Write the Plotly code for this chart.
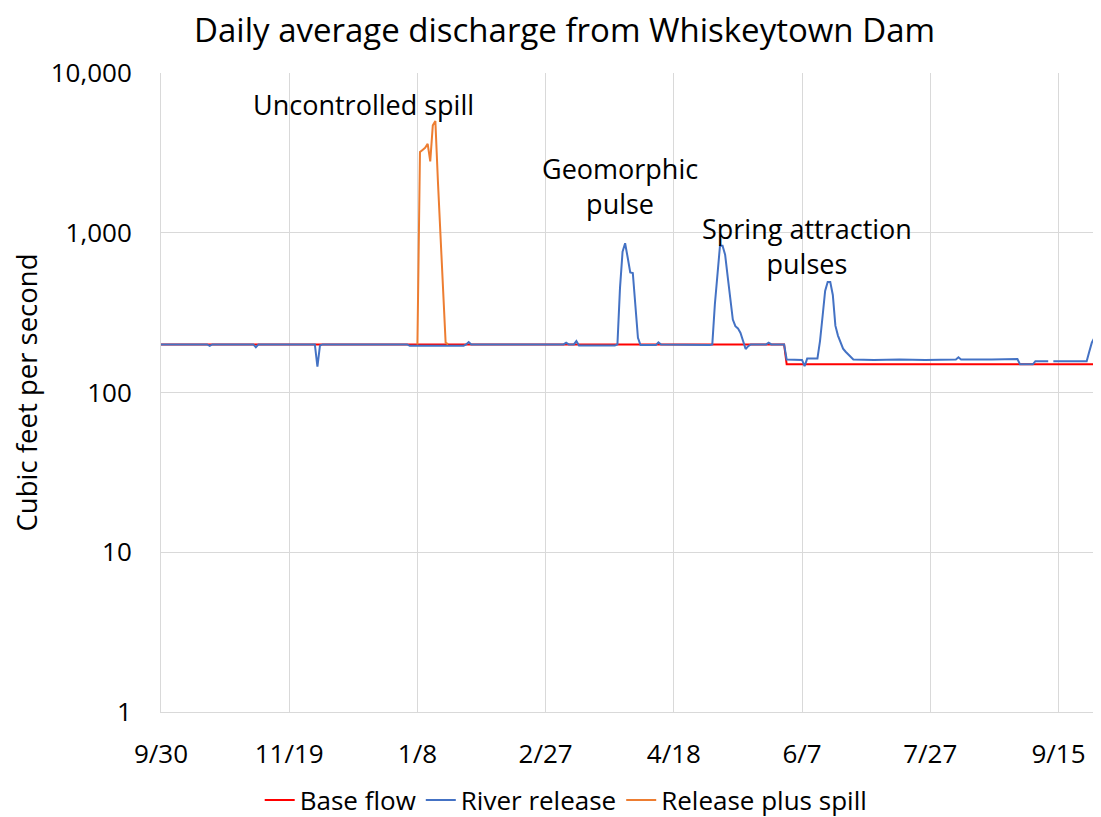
import plotly.graph_objects as go

# ---- Data ----
base_dates = ["2016-09-30", "2017-05-31", "2017-06-01", "2017-09-30"]
base_cfs = [200, 200, 150, 150]

river_dates = [
    "2016-09-30", "2016-10-18", "2016-10-19", "2016-10-20", "2016-11-05", "2016-11-06",
    "2016-11-07", "2016-11-29", "2016-11-30", "2016-12-01", "2016-12-02", "2017-01-04",
    "2017-01-05", "2017-01-26", "2017-01-27", "2017-01-28", "2017-01-29", "2017-03-06",
    "2017-03-07", "2017-03-08", "2017-03-10", "2017-03-11", "2017-03-12", "2017-03-26",
    "2017-03-27", "2017-03-28", "2017-03-29", "2017-03-30", "2017-03-31", "2017-04-01",
    "2017-04-02", "2017-04-03", "2017-04-04", "2017-04-05", "2017-04-11", "2017-04-12",
    "2017-04-13", "2017-05-02", "2017-05-03", "2017-05-04", "2017-05-05", "2017-05-06",
    "2017-05-07", "2017-05-08", "2017-05-09", "2017-05-10", "2017-05-11", "2017-05-12",
    "2017-05-13", "2017-05-14", "2017-05-15", "2017-05-16", "2017-05-17", "2017-05-18",
    "2017-05-24", "2017-05-25", "2017-05-26", "2017-05-31", "2017-06-01", "2017-06-07",
    "2017-06-08", "2017-06-09", "2017-06-13", "2017-06-14", "2017-06-15", "2017-06-16",
    "2017-06-17", "2017-06-18", "2017-06-19", "2017-06-20", "2017-06-21", "2017-06-22",
    "2017-06-23", "2017-06-24", "2017-06-25", "2017-06-26", "2017-06-27", "2017-07-05",
    "2017-07-15", "2017-07-25", "2017-08-06", "2017-08-07", "2017-08-08", "2017-08-20",
    "2017-08-30", "2017-08-31", "2017-09-05", "2017-09-06", "2017-09-11", "2017-09-12",
    "2017-09-13", "2017-09-26", "2017-09-27", "2017-09-28", "2017-09-29", "2017-09-30",
]
river_cfs = [
    200, 200, 196, 200, 200, 192,
    200, 200, 145, 197, 200, 200,
    196, 196, 200, 207, 200, 200,
    205, 200, 200, 210, 197, 197,
    200, 450, 760, 860, 700, 565,
    560, 330, 220, 198, 198, 206,
    200, 198, 200, 357, 572, 830,
    830, 729, 531, 389, 286, 260,
    252, 236, 208, 187, 195, 200,
    200, 205, 200, 200, 161, 160,
    146, 163, 163, 210, 299, 432,
    492, 492, 408, 262, 227, 205,
    188, 180, 174, 167, 161, 160,
    161, 160, 161, 166, 161, 161,
    162, 150, 150, 157, 157, None,
    157, 157, 180, 205, 220, 200,
]

spill_dates = [
    "2017-01-08", "2017-01-09", "2017-01-10", "2017-01-11", "2017-01-12", "2017-01-13",
    "2017-01-14", "2017-01-15", "2017-01-16", "2017-01-17", "2017-01-18", "2017-01-19",
    "2017-01-20",
]
spill_cfs = [200, 3200, 3300, 3400, 3600, 2800, 4700, 5000, 2090, 944, 416, 205, 200]

x_tick_dates = ["2016-09-30", "2016-11-19", "2017-01-08", "2017-02-27",
                "2017-04-18", "2017-06-07", "2017-07-27", "2017-09-15"]
x_tick_labels = ["9/30", "11/19", "1/8", "2/27", "4/18", "6/7", "7/27", "9/15"]
y_tick_vals = [1, 10, 100, 1000, 10000]
y_tick_labels = ["1", "10", "100", "1,000", "10,000"]

labels = [
    ("2016-12-18", 3.80, "Uncontrolled spill"),
    ("2017-03-28", 3.294, "Geomorphic<br>pulse"),
    ("2017-06-09", 2.919, "Spring attraction<br>pulses"),
]

FONT = "Open Sans"

fig = go.Figure()
fig.add_trace(go.Scatter(x=base_dates, y=base_cfs, mode="lines", name="Base flow",
                         line=dict(color="#FF0000", width=2)))
fig.add_trace(go.Scatter(x=river_dates, y=river_cfs, mode="lines", name="River release",
                         line=dict(color="#4472C4", width=2), connectgaps=False))
fig.add_trace(go.Scatter(x=spill_dates, y=spill_cfs, mode="lines", name="Release plus spill",
                         line=dict(color="#ED7D31", width=2)))

for xd, ylog, txt in labels:
    fig.add_annotation(x=xd, y=ylog, xref="x", yref="y", text=txt, showarrow=False,
                       font=dict(family=FONT, size=27, color="#000000"))

# the page body adds an 8px margin, so the figure is offset by 8px in the window
fig.update_layout(
    width=1101, height=817,
    margin=dict(l=153, r=11, t=65, b=113, autoexpand=False),
    paper_bgcolor="white", plot_bgcolor="white",
    title=dict(text="Daily average discharge from Whiskeytown Dam",
               x=0.5055, xanchor="center", xref="container",
               y=0.973, yanchor="middle", yref="container",
               font=dict(family=FONT, size=33, color="#000000")),
    font=dict(family=FONT, color="#000000"),
    showlegend=True,
    legend=dict(orientation="h", xref="container", x=0.507, xanchor="center",
                yref="container", y=0.0306, yanchor="middle",
                font=dict(family=FONT, size=26, color="#000000"),
                itemwidth=30, tracegroupgap=0),
)
fig.update_xaxes(type="date", range=["2016-09-30", "2017-09-30 10:00"],
                 tickvals=x_tick_dates, ticktext=x_tick_labels,
                 tickfont=dict(family=FONT, size=26),
                 showgrid=True, gridcolor="#D9D9D9", gridwidth=1,
                 showline=True, linecolor="#D9D9D9", linewidth=1,
                 ticks="", ticklabelstandoff=19, zeroline=False, automargin=False)
fig.update_yaxes(type="log", range=[0, 4],
                 tickvals=y_tick_vals, ticktext=y_tick_labels,
                 tickfont=dict(family=FONT, size=26),
                 showgrid=True, gridcolor="#D9D9D9", gridwidth=1,
                 showline=True, linecolor="#D9D9D9", linewidth=1,
                 ticks="", ticklabelstandoff=23, automargin=False,
                 title=dict(text="Cubic feet per second", standoff=10,
                            font=dict(family=FONT, size=27.5)))

fig.write_html("out.html")
